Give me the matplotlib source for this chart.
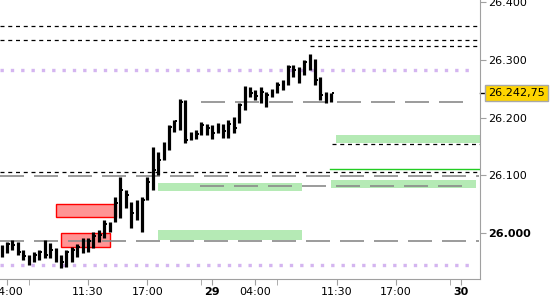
import matplotlib
matplotlib.use("Agg")
import matplotlib.pyplot as plt
from matplotlib.patches import Rectangle
from matplotlib.transforms import blended_transform_factory

# 30-minute bars (index axis, session gaps removed)
highs = [25979, 25984, 25988, 25984, 25971, 25962, 25967, 25971, 25988, 25983,
         25974, 25962, 25971, 25976, 25981, 25991, 25991, 26002, 26005, 26023,
         26019, 26062, 26097, 26074, 26054, 26057, 26062, 26097, 26149, 26140,
         26158, 26187, 26196, 26232, 26230, 26175, 26178, 26192, 26189, 26187,
         26190, 26189, 26196, 26201, 26225, 26255, 26253, 26248, 26253, 26244,
         26249, 26261, 26265, 26291, 26291, 26287, 26300, 26310, 26301, 26270,
         26244, 26243]
lows = [25958, 25965, 25971, 25962, 25953, 25945, 25950, 25953, 25957, 25957,
        25950, 25939, 25941, 25950, 25958, 25965, 25967, 25974, 25984, 25991,
        26002, 26019, 26026, 26043, 26009, 26023, 26002, 26057, 26074, 26100,
        26126, 26144, 26175, 26178, 26156, 26161, 26163, 26170, 26170, 26163,
        26173, 26165, 26165, 26173, 26190, 26213, 26235, 26230, 26225, 26218,
        26235, 26242, 26248, 26256, 26270, 26260, 26274, 26282, 26256, 26230,
        26225, 26227]
closes = [25974, 25981, 25979, 25967, 25960, 25957, 25962, 25967, 25962, 25971,
          25957, 25950, 25967, 25971, 25976, 25983, 25986, 25995, 25997, 26016,
          26012, 26052, 26074, 26066, 26035, 26043, 26057, 26088, 26109, 26126,
          26152, 26184, 26194, 26227, 26161, 26163, 26171, 26187, 26182, 26173,
          26185, 26177, 26189, 26182, 26222, 26249, 26242, 26237, 26244, 26239,
          26246, 26256, 26261, 26287, 26282, 26277, 26296, 26298, 26265, 26239,
          26237, 26242.75]
last_price = 26242.75
last_label = "26.242,75"

tick_pos = [1, 16, 27, 39, 47, 62, 73, 85]
tick_labels = ["04:00", "11:30", "17:00", "29", "04:00", "11:30", "17:00", "30"]
minor_pos = [5, 37, 51, 83]
price_ticks = [26000, 26100, 26200, 26300, 26400]

# horizontal levels: value, start bar, end bar
black_levels = [26358, 26334, 26324, 26154, 26106]
black_start = [-1, -1, 57.0, 61.2, -1]
black_end = [88.0, 88.2, 89, 89, 89]
gray_levels = [26227, 26099, 26081, 25986]
gray_start = [36.9, -1, 36.7, -1]
gray_end = [86.9, 88.3, 86.9, 88.4]
purple_levels = [26282, 25945]
green_level = 26110
green_start = 60.8

# zones: start bar, end bar, low, high
green_zones = [(61.9, 89, 26156, 26170), (28.9, 55.7, 26072, 26087),
               (61.0, 87.8, 26078, 26092), (28.9, 55.7, 25987, 26005)]
red_zones = [(10.1, 21.2, 26027, 26050), (11.0, 20.1, 25976, 26000)]

fig = plt.figure(figsize=(5.5, 3.0), dpi=100)
ax = fig.add_axes([0, 21 / 300, 480 / 550, 279 / 300])
x0, x1 = -0.31, 88.57
ax.set_xlim(x0, x1)
ax.set_ylim(25920.3, 26403.5)

for a, b, lo, hi in green_zones:
    ax.add_patch(Rectangle((a, lo), b - a, hi - lo, fc="#B5EAB5", ec="none", zorder=1))
for a, b, lo, hi in red_zones:
    ax.add_patch(Rectangle((a, lo), b - a, hi - lo, fc="#FF9494", ec="#FF0000",
                           lw=1, zorder=1))

for v, a, b in zip(black_levels, black_start, black_end):
    ax.plot([max(a, x0), min(b, x1)], [v, v], color="black", lw=0.9,
            dashes=(3.2, 3), zorder=2)
for v, a, b in zip(gray_levels, gray_start, gray_end):
    ax.plot([max(a, x0), min(b, x1)], [v, v], color="#8A8A8A", lw=1.2,
            dashes=(14.4, 6), zorder=2)
for v in purple_levels:
    ax.plot([x0, 87.7], [v, v], color="#D4B5F0", lw=2.4, dashes=(1, 2.1), zorder=2)
ax.plot([green_start, x1], [green_level, green_level], color="#22CC22", lw=1, zorder=2)

xs = list(range(len(highs)))
ax.vlines(xs, lows, highs, color="black", lw=2.3, zorder=3)
ax.hlines(closes, [x + 0.1 for x in xs], [x + 0.5 for x in xs], color="black",
          lw=1.4, zorder=3)

for s in ["left", "top"]:
    ax.spines[s].set_visible(False)
for s in ["right", "bottom"]:
    ax.spines[s].set_color("#A0A0A0")

ax.yaxis.tick_right()
ax.set_yticks(price_ticks)
ax.set_yticklabels([f"{v:,.0f}".replace(",", ".") for v in price_ticks])
ax.tick_params(axis="y", colors="#A0A0A0", labelcolor="black", labelsize=8,
               length=4, pad=2)
ax.get_yticklabels()[0].set_fontweight("bold")

ax.set_xticks(tick_pos)
ax.set_xticklabels(tick_labels)
ax.set_xticks(minor_pos, minor=True)
ax.tick_params(axis="x", which="both", colors="#A0A0A0", labelcolor="black",
               labelsize=8, length=4, pad=2)
for lbl in ax.get_xticklabels():
    if lbl.get_text() in ("29", "30"):
        lbl.set_fontweight("bold")

# current price marker on the right axis
trans = blended_transform_factory(ax.transAxes, ax.transData)
ax.plot([1.0, 1.011], [last_price, last_price], color="black", lw=1,
        transform=trans, clip_on=False)
ax.text(1.017, last_price, last_label, transform=trans,
        ha="left", va="center", fontsize=8,
        bbox=dict(boxstyle="square,pad=0.25", fc="#FFD400", ec="#A8A8A8", lw=1))

fig.savefig("out.png", dpi=100)
